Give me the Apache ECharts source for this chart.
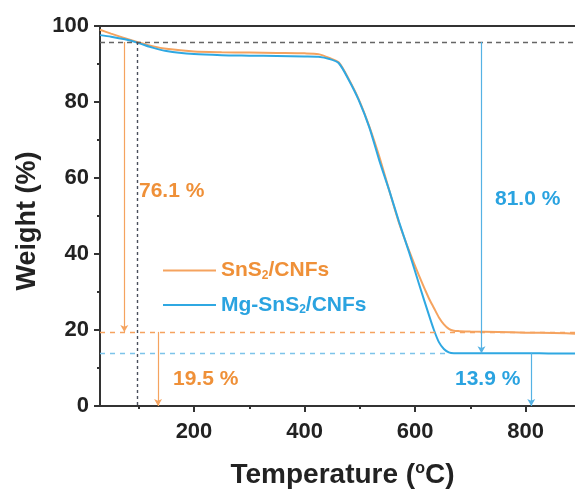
<!DOCTYPE html>
<html>
<head>
<meta charset="utf-8">
<script src="https://cdn.jsdelivr.net/npm/echarts@6/dist/echarts.min.js"></script>
<style>
  html, body { margin: 0; padding: 0; background: #fff; }
  #chart { width: 575px; height: 493px; }
</style>
</head>
<body>
<div id="chart"></div>
<script>
// TGA curves of SnS2/CNFs and Mg-SnS2/CNFs
const temperature = [30, 50, 75, 100, 125, 150, 200, 250, 300, 350, 400, 425, 445, 462, 480, 498, 517, 535, 553, 571, 589, 607, 625, 634, 643, 652, 661, 670, 680, 700, 750, 800, 850, 900];
const weightSnS  = [99.0, 98.0, 96.8, 95.7, 94.7, 94.0, 93.3, 93.1, 93.0, 92.9, 92.8, 92.6, 91.6, 90.4, 86.0, 80.7, 73.6, 65.7, 56.8, 48.1, 40.9, 34.3, 28.3, 25.8, 23.3, 21.5, 20.3, 19.8, 19.7, 19.6, 19.5, 19.3, 19.2, 19.0];
const weightMg   = [97.6, 97.2, 96.5, 95.5, 94.3, 93.4, 92.6, 92.3, 92.2, 92.1, 92.0, 91.9, 91.3, 90.2, 85.8, 80.5, 73.4, 64.7, 56.8, 48.4, 40.5, 32.1, 23.9, 20.0, 16.8, 15.0, 14.1, 13.9, 13.9, 13.9, 13.9, 13.9, 13.8, 13.8];

const seriesNames = ['SnS2/CNFs', 'Mg-SnS2/CNFs'];
const xTickLabels = [200, 400, 600, 800];
const xMinorTicks = [100, 300, 500, 700];

// annotation values
const onsetTemp = 97;
const onsetWeight = 95.8;
const residualSnS = 19.5;
const residualMg = 13.9;
const lossSnS = 76.1;
const lossMg = 81.0;
const arrowTempsSnS = [74, 135];
const arrowTempsMg = [720, 810];

const ORANGE = '#F5A35F';
const ORANGE_TEXT = '#EF9038';
const BLUE = '#2FA8E2';
const BLUE_TEXT = '#2AA3E0';
const AXIS = '#333333';
const FONT = '"Liberation Sans", Arial, sans-serif';

const chart = echarts.init(document.getElementById('chart'), null, { renderer: 'canvas' });

function pairs(xs, ys) { return xs.map((x, i) => [x, ys[i]]); }

function arrow(x, yFrom, yTo, color) {
  return [
    { coord: [x, yFrom], symbol: 'none', lineStyle: { color: color, width: 1.2, type: 'solid' } },
    { coord: [x, yTo], symbol: 'arrow', symbolSize: [6, 7] }
  ];
}
function dashed(x1, y1, x2, y2, color, dash) {
  return [
    { coord: [x1, y1], symbol: 'none', lineStyle: { color: color, width: 1.4, type: dash } },
    { coord: [x2, y2], symbol: 'none' }
  ];
}

const xMin = 30, xMax = 900;

const option = {
  animation: false,
  backgroundColor: '#ffffff',
  // the plot frame runs slightly past the right edge of the page
  grid: { left: 100, top: 26, width: 481, height: 380, outerBoundsMode: 'none', containLabel: false },
  legend: {
    orient: 'vertical',
    left: 163,
    top: 260,
    padding: 0,
    icon: 'rect',
    itemWidth: 53,
    itemHeight: 2,
    itemGap: 13,
    data: [
      { name: seriesNames[0], textStyle: { color: ORANGE_TEXT } },
      { name: seriesNames[1], textStyle: { color: BLUE_TEXT } }
    ],
    formatter: function (name) {
      const k = name === seriesNames[0] ? 'o' : 'b';
      const parts = name.split('2');
      return '{' + k + '|' + parts[0] + '}{' + k + 's|2}{' + k + '|' + parts[1] + '}';
    },
    textStyle: {
      fontFamily: FONT,
      fontWeight: 'bold',
      fontSize: 21,
      rich: {
        o: { color: ORANGE_TEXT, fontFamily: FONT, fontWeight: 'bold', fontSize: 21 },
        os: { color: ORANGE_TEXT, fontFamily: FONT, fontWeight: 'bold', fontSize: 12, padding: [10, 0, 0, 0] },
        b: { color: BLUE_TEXT, fontFamily: FONT, fontWeight: 'bold', fontSize: 21 },
        bs: { color: BLUE_TEXT, fontFamily: FONT, fontWeight: 'bold', fontSize: 12, padding: [10, 0, 0, 0] }
      }
    }
  },
  xAxis: [
    {
      type: 'value',
      min: xMin,
      max: xMax,
      position: 'bottom',
      name: 'Temperature ({sup|o}C)',
      nameLocation: 'middle',
      nameGap: 55,
      nameTextStyle: {
        color: '#222', fontFamily: FONT, fontWeight: 'bold', fontSize: 28,
        padding: [0, 0, 0, 4],
        rich: { sup: { fontFamily: FONT, fontWeight: 'bold', fontSize: 16, color: '#222', padding: [0, 0, 13, 0] } }
      },
      axisLine: { show: true, lineStyle: { color: AXIS, width: 2 } },
      axisTick: { show: true, length: 6, lineStyle: { color: AXIS, width: 2 }, customValues: xTickLabels },
      axisLabel: { color: '#222', fontFamily: FONT, fontWeight: 'bold', fontSize: 22, margin: 15, customValues: xTickLabels },
      splitLine: { show: false }
    },
    {
      // minor ticks between the labelled ones
      type: 'value',
      min: xMin,
      max: xMax,
      position: 'bottom',
      axisLine: { show: false },
      axisTick: { show: true, length: 3, lineStyle: { color: AXIS, width: 2 }, customValues: xMinorTicks },
      axisLabel: { show: false },
      splitLine: { show: false }
    },
    {
      // top frame line
      type: 'value',
      min: xMin,
      max: xMax,
      position: 'top',
      axisLine: { show: true, lineStyle: { color: AXIS, width: 2 } },
      axisTick: { show: false },
      axisLabel: { show: false },
      splitLine: { show: false }
    }
  ],
  yAxis: {
    type: 'value',
    min: 0,
    max: 100,
    interval: 20,
    name: 'Weight (%)',
    nameLocation: 'middle',
    nameGap: 58,
    nameTextStyle: { color: '#222', fontFamily: FONT, fontWeight: 'bold', fontSize: 27, padding: [0, 10, 0, 0] },
    axisLine: { show: true, lineStyle: { color: AXIS, width: 2 } },
    axisTick: { show: true, length: 6, lineStyle: { color: AXIS, width: 2 } },
    minorTick: { show: true, splitNumber: 2, length: 3, lineStyle: { color: AXIS, width: 2 } },
    axisLabel: { color: '#222', fontFamily: FONT, fontWeight: 'bold', fontSize: 22, margin: 11 },
    splitLine: { show: false }
  },
  series: [
    {
      name: seriesNames[0],
      type: 'line',
      data: pairs(temperature, weightSnS),
      smooth: 0.25,
      showSymbol: false,
      color: ORANGE,
      lineStyle: { color: ORANGE, width: 2 },
      z: 3,
      markLine: {
        silent: true,
        animation: false,
        label: { show: false },
        data: [
          dashed(xMin, residualSnS, xMax, residualSnS, ORANGE, [5, 5]),
          arrow(arrowTempsSnS[0], onsetWeight, residualSnS, ORANGE),
          arrow(arrowTempsSnS[1], residualSnS, 0, ORANGE)
        ]
      }
    },
    {
      name: seriesNames[1],
      type: 'line',
      data: pairs(temperature, weightMg),
      smooth: 0.25,
      showSymbol: false,
      color: BLUE,
      lineStyle: { color: BLUE, width: 2 },
      z: 4,
      markLine: {
        silent: true,
        animation: false,
        label: { show: false },
        data: [
          dashed(xMin, residualMg, 660, residualMg, '#7CC4EA', [5, 5]),
          dashed(xMin, onsetWeight, xMax, onsetWeight, '#666666', [5, 4]),
          dashed(onsetTemp, onsetWeight, onsetTemp, 0, '#4a4f5c', [3, 3]),
          arrow(arrowTempsMg[0], onsetWeight, residualMg, '#55B2E4'),
          arrow(arrowTempsMg[1], residualMg, 0, '#55B2E4')
        ]
      }
    }
  ],
  graphic: [
    { type: 'text', left: 139, top: 181, style: { text: lossSnS.toFixed(1) + ' %', fill: ORANGE_TEXT, font: 'bold 21px ' + FONT } },
    { type: 'text', left: 495, top: 189, style: { text: lossMg.toFixed(1) + ' %', fill: BLUE_TEXT, font: 'bold 21px ' + FONT } },
    { type: 'text', left: 173, top: 369, style: { text: residualSnS.toFixed(1) + ' %', fill: ORANGE_TEXT, font: 'bold 21px ' + FONT } },
    { type: 'text', left: 455, top: 369, style: { text: residualMg.toFixed(1) + ' %', fill: BLUE_TEXT, font: 'bold 21px ' + FONT } }
  ]
};

chart.setOption(option);
</script>
</body>
</html>
